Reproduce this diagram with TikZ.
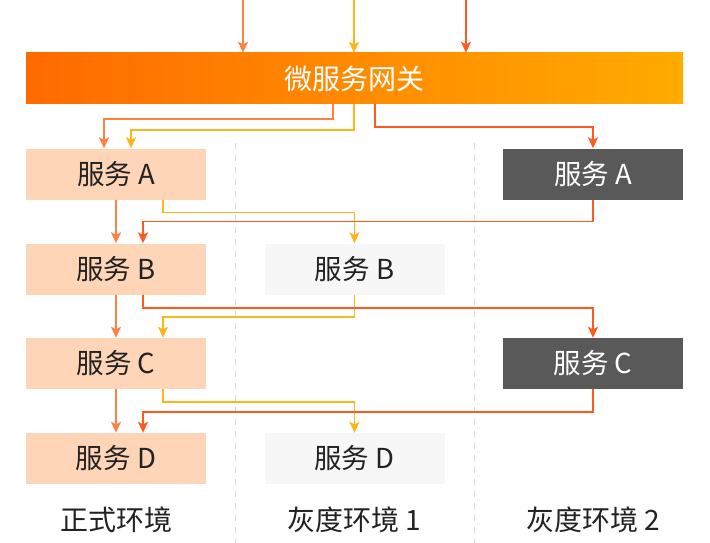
\documentclass[tikz,border=0pt]{standalone}
\usepackage{fontspec}
\setmainfont{Noto Sans CJK SC}
\usetikzlibrary{arrows.meta,calc}
\definecolor{gwL}{HTML}{FF6A00}
\definecolor{gwR}{HTML}{FFAB00}
\definecolor{peach}{HTML}{FFD5B8}
\definecolor{lightg}{HTML}{F7F7F7}
\definecolor{darkg}{HTML}{595959}
\definecolor{txt}{HTML}{222222}
\definecolor{oL}{HTML}{FF8040}
\definecolor{aL}{HTML}{FFB419}
\definecolor{rL}{HTML}{FF5A1E}
\definecolor{sep}{HTML}{D9D9D9}
\tikzset{
  svc/.style={minimum width=180pt,minimum height=51pt,inner sep=0pt,font=\fontsize{27.5}{30}\selectfont},
  prod/.style={svc,fill=peach,text=txt},
  gray1/.style={svc,fill=lightg,text=txt},
  gray2/.style={svc,fill=darkg,text=white},
  conn/.style={line width=1.5pt,-{Stealth[length=11pt,width=10pt,inset=2.5pt]}},
  oline/.style={conn,draw=oL},
  aline/.style={conn,draw=aL},
  rline/.style={conn,draw=rL},
  envlabel/.style={font=\fontsize{28}{30}\selectfont,text=txt,inner sep=0pt},
  sepline/.style={draw=sep,line width=1pt,dash pattern=on 6pt off 6pt}
}
\begin{document}
\begin{tikzpicture}[x=1pt,y=-1pt]
\useasboundingbox (0,0) rectangle (710,543);
% separators
\draw[sepline] (235,143) -- (235,543);
\draw[sepline] (474,143) -- (474,543);
% gateway
\node[minimum width=657pt,minimum height=51pt,inner sep=0pt,left color=gwL,right color=gwR,text=white,font=\fontsize{28}{30}\selectfont] (gw) at (354.5,78.5) {微服务网关};
% boxes
\node[prod] (a1) at (116,174) {服务 A};
\node[prod] (b1) at (116,269) {服务 B};
\node[prod] (c1) at (116,363.5) {服务 C};
\node[prod] (d1) at (116,458.5) {服务 D};
\node[gray1] (b2) at (354.5,269) {服务 B};
\node[gray1] (d2) at (354.5,458.5) {服务 D};
\node[gray2] (a3) at (593,174) {服务 A};
\node[gray2] (c3) at (593,363.5) {服务 C};
% labels
\node[envlabel] (l1) at (116,520) {正式环境};
\node[envlabel] (l2) at (354.5,520) {灰度环境 1};
\node[envlabel] (l3) at (593,520) {灰度环境 2};
% incoming
\coordinate (in1) at (243,0);
\coordinate (in2) at (354,0);
\coordinate (in3) at (466,0);
\draw[oline] (in1) -- (in1 |- gw.north);
\draw[aline] (in2) -- (in2 |- gw.north);
\draw[rline] (in3) -- (in3 |- gw.north);
% gateway out
\draw[oline] ([xshift=-21.5pt]gw.south) -- ++(0,15) -| ([xshift=-12pt]a1.north);
\draw[aline] ([xshift=-0.5pt]gw.south) -- ++(0,26) -| ([xshift=15pt]a1.north);
\draw[rline] ([xshift=20.5pt]gw.south) -- ++(0,23) -| (a3.north);
% production chain
\draw[oline] (a1.south) -- (b1.north);
\draw[oline] (b1.south) -- (c1.north);
\draw[oline] (c1.south) -- (d1.north);
% gray 1
\draw[aline] ([xshift=47pt]a1.south) -- ++(0,13) -| (b2.north);
\draw[aline] (b2.south) -- ++(0,22.5) -| ([xshift=47pt]c1.north);
\draw[aline] ([xshift=47pt]c1.south) -- ++(0,13) -| (d2.north);
% gray 2
\draw[rline] (a3.south) -- ++(0,22) -| ([xshift=27pt]b1.north);
\draw[rline] ([xshift=27pt]b1.south) -- ++(0,13.5) -| (c3.north);
\draw[rline] (c3.south) -- ++(0,23) -| ([xshift=27pt]d1.north);
\end{tikzpicture}
\end{document}
